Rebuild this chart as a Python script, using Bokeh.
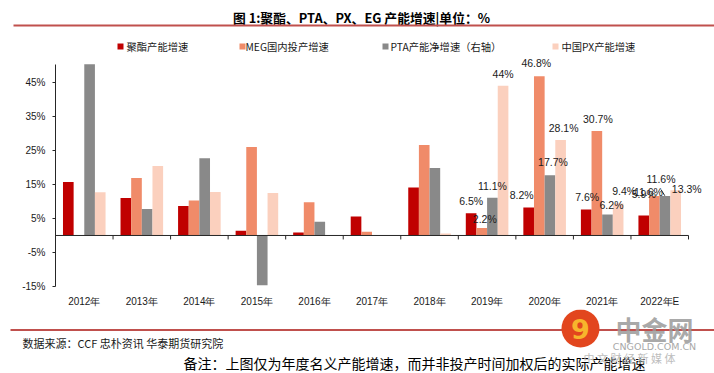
from bokeh.plotting import figure
from bokeh.layouts import column
from bokeh.models import (Range1d, FixedTicker, PrintfTickFormatter, CustomJSTickFormatter,
                          ColumnDataSource, LabelSet)
from bokeh.core.properties import value
from bokeh.embed import file_html
from bokeh.resources import INLINE

# ---------------- data ----------------
years = ["2012年", "2013年", "2014年", "2015年", "2016年", "2017年",
         "2018年", "2019年", "2020年", "2021年", "2022年E"]
polyester = [15.7, 11.0, 8.7, 1.4, 0.9, 5.6, 14.1, 6.5, 8.2, 7.6, 5.9]
meg = [0.0, 16.9, 10.3, 26.0, 9.8, 1.1, 26.6, 2.2, 46.8, 30.7, 11.6]
pta = [50.3, 7.8, 22.7, -14.6, 4.0, 0.0, 19.8, 11.1, 17.7, 6.2, 11.6]   # 2012 bar runs off the axis top
px = [12.7, 20.4, 12.8, 12.5, 0.0, 0.0, 0.6, 44.0, 28.1, 9.4, 13.3]
series_names = ["聚酯产能增速", "MEG国内投产增速", "PTA产能净增速（右轴）", "中国PX产能增速"]
labeled_years = ["2019年", "2020年", "2021年", "2022年E"]
y_ticks = [-15, -5, 5, 15, 25, 35, 45]
y_min, y_max = -15, 50.27

title_text = "图 1:聚酯、PTA、PX、EG 产能增速|单位：%"
source_text = "数据来源：CCF 忠朴资讯 华泰期货研究院"
note_text = "备注：上图仅为年度名义产能增速，而并非投产时间加权后的实际产能增速"

# ---------------- style ----------------
colors = ["#C00000", "#F08B69", "#898989", "#FBD0BE"]
offsets = [-0.2775, -0.0925, 0.0925, 0.2775]
bar_w = 0.185
# value-label pixel offsets (dx, dy up) : [year][series]
lab_dx = [[0, 3, 0, 0], [-7, -3, 3, 3], [1, 1, 4, 6], [0, -6, -4, 11]]
lab_dy = [[12, 9, 12, 12], [13, 13, 13, 12], [13, 12, 9, 12], [21, 4, 17, 1]]

W = 714
TOP_H = 56
FL, AX_R, FT, FB = 55, 688, 56, 287   # frame left, axis right end, frame top/bottom (px)
MAIN_BOTTOM = 309
H_TOTAL = 373
PX_PER_PCT = (FB - 64) / (y_max - y_min)
PX_PER_CAT = (AX_R - FL) / len(years)
CJK = "Noto Sans CJK SC"
NUM = "Liberation Sans"
LINE_RED = "#C0504D"
AXIS_COL = "#262626"


def deco_fig(y0, y1):
    f = figure(width=W, height=y1 - y0, output_backend="svg", toolbar_location=None,
               x_range=Range1d(0, W), y_range=Range1d(y1, y0),
               x_axis_location=None, y_axis_location=None, min_border=0)
    f.frame_align = False
    f.outline_line_color = None
    f.grid.visible = False
    f.background_fill_color = "white"
    f.border_fill_color = "white"
    return f


def txt(f, x, y, text, size, font=CJK, color="#000000", align="left", style="normal", alpha=1.0):
    f.text(x=[x], y=[y], text=[text], text_font=value(font), text_font_size=size,
           text_color=color, text_align=align, text_baseline="middle",
           text_font_style=style, text_alpha=alpha)


# ---------------- top strip: title + legend ----------------
top = deco_fig(0, TOP_H)
txt(top, 361, 17, title_text, "12.8px", align="center", style="bold")
top.quad(left=[13], right=[W], top=[24], bottom=[26], fill_color=LINE_RED, line_color=None)
leg_sq = [117, 239, 382, 552]
leg_tx = [126, 245, 390, 561]
for i in range(4):
    top.quad(left=[leg_sq[i]], right=[leg_sq[i] + 6], top=[43], bottom=[49],
             fill_color=colors[i], line_color=None)
    txt(top, leg_tx[i], 46, series_names[i], "10.3px", color="#1a1a1a")

# ---------------- main chart ----------------
n = len(years)
idx = list(range(n))
y_end = y_min + (FB - FT) / PX_PER_PCT
x_end = (W - FL) / PX_PER_CAT
p = figure(width=W, height=MAIN_BOTTOM - TOP_H, output_backend="svg", toolbar_location=None,
           x_range=Range1d(0, x_end), y_range=Range1d(y_min, y_end),
           min_border_left=FL, min_border_right=0,
           min_border_top=FT - TOP_H, min_border_bottom=MAIN_BOTTOM - FB)
p.frame_align = False
p.outline_line_color = None
p.xgrid.visible = False
p.ygrid.visible = False
p.background_fill_color = "white"
p.border_fill_color = "white"

all_vals = [polyester, meg, pta, px]
for i in range(4):
    xs = [k + 0.5 + offsets[i] for k in idx]
    p.vbar(x=xs, top=all_vals[i], bottom=0, width=bar_w,
           fill_color=colors[i], line_color=None)

# zero line with category separators
tick_len = 4 / PX_PER_PCT
p.segment(x0=[0], x1=[n], y0=[0], y1=[0], line_color=AXIS_COL, line_width=1)
bounds = list(range(n + 1))
p.segment(x0=bounds, x1=bounds, y0=[0] * (n + 1), y1=[-tick_len] * (n + 1),
          line_color=AXIS_COL, line_width=1)

# axes
ya = p.yaxis[0]
ya.bounds = (y_min, y_max)
ya.ticker = FixedTicker(ticks=y_ticks)
ya.formatter = PrintfTickFormatter(format="%d%%")
ya.major_label_text_font = NUM
ya.major_label_text_font_size = "10px"
ya.major_label_text_color = "#1a1a1a"
ya.axis_line_color = AXIS_COL
ya.major_tick_line_color = AXIS_COL
ya.major_tick_out = 3
ya.major_tick_in = 0
ya.minor_tick_line_color = None
ya.major_label_standoff = 7

xa = p.xaxis[0]
xa.ticker = FixedTicker(ticks=[k + 0.5 for k in idx])
xa.formatter = CustomJSTickFormatter(args=dict(labels=years),
                                     code="return labels[Math.floor(tick)] || '';")
xa.axis_line_color = None
xa.major_tick_line_color = None
xa.minor_tick_line_color = None
xa.major_tick_out = 0
xa.major_tick_in = 0
xa.major_label_standoff = 9
xa.major_label_text_font = NUM
xa.major_label_text_font_size = "10px"
xa.major_label_text_color = "#1a1a1a"

# value labels
for s in range(4):
    xs, vals, tt, dxs, dys = [], [], [], [], []
    for k, yr in enumerate(labeled_years):
        j = years.index(yr)
        v = all_vals[s][j]
        xs.append(j + 0.5 + offsets[s])
        vals.append(v)
        tt.append(f"{v:g}%")
        dxs.append(lab_dx[k][s])
        dys.append(lab_dy[k][s])
    lsrc = ColumnDataSource(dict(x=xs, v=vals, t=tt, dx=dxs, dy=dys))
    p.add_layout(LabelSet(x="x", y="v", text="t", x_offset="dx", y_offset="dy", source=lsrc,
                          text_align="center", text_baseline="middle",
                          text_font=value(NUM), text_font_size="10.5px",
                          text_color="#1a1a1a"))

# leader line for the PTA 2022E label
xl = n - 1 + 0.5 + offsets[2]
p.segment(x0=[xl - 0.07], x1=[xl - 0.005], y0=[pta[-1] + 1.9], y1=[pta[-1] + 0.1],
          line_color="#1a1a1a", line_width=1)

# ---------------- bottom strip: source, note, watermark ----------------
bot = deco_fig(MAIN_BOTTOM, H_TOTAL)
bot.quad(left=[10], right=[W], top=[328.5], bottom=[330.5], fill_color=LINE_RED, line_color=None)
txt(bot, 22, 342, source_text, "11px", color="#1a1a1a")
txt(bot, 183, 362, note_text, "14px", color="#000000")
# watermark
bot.ellipse(x=[580], y=[328], width=38, height=38, fill_color="#E2461E", line_color=None)
txt(bot, 580, 328, "9", "27px", font="DejaVu Sans", color="#F7B52C", align="center", style="bold")
txt(bot, 654, 328, "中金网", "26px", color="#9a9a9a", align="center", style="bold", alpha=0.85)
txt(bot, 654, 346, "CNGOLD.COM.CN", "9.5px", font="DejaVu Sans", color="#a8a8a8", align="center")
txt(bot, 629, 357, "中 文 财 经 新 媒 体", "11px", color="#bdbdbd", align="center")

layout = column(top, p, bot, spacing=0)
open("out.html", "w").write(file_html(layout, INLINE))
